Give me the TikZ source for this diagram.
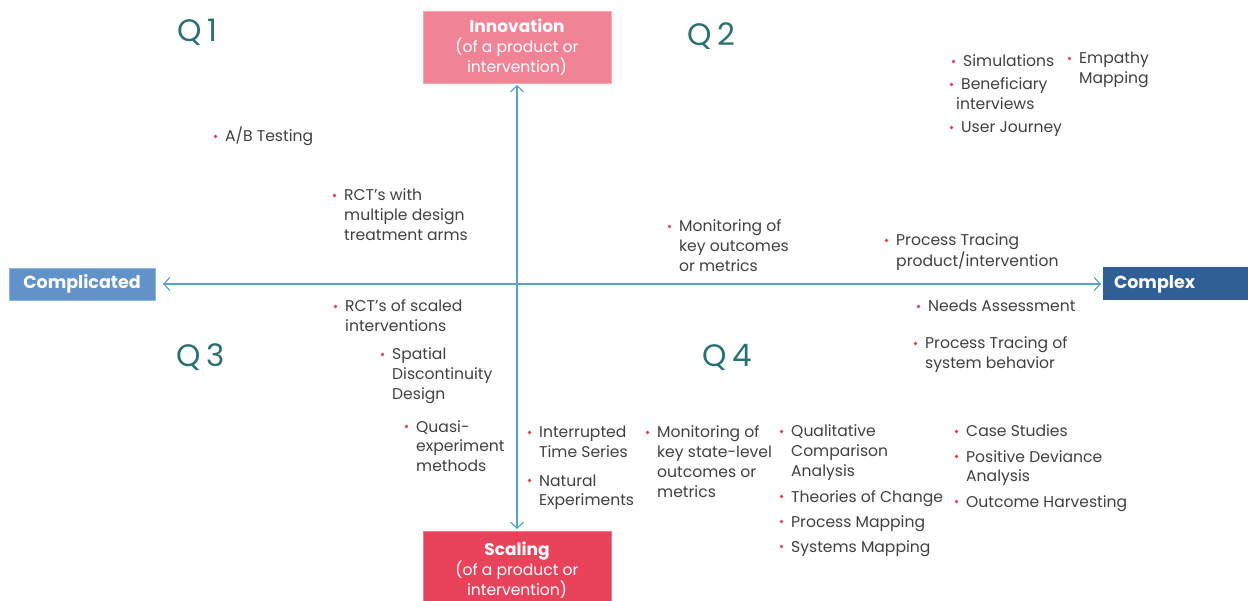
\documentclass[tikz,border=0pt]{standalone}
\usepackage{fontspec}
\setmainfont{Poppins}
\usetikzlibrary{arrows.meta,calc}
\definecolor{txt}{HTML}{404040}
\definecolor{bul}{HTML}{E0405A}
\definecolor{qcol}{HTML}{2B7070}
\definecolor{axisc}{HTML}{5BA3C6}
\definecolor{innovc}{HTML}{F08496}
\definecolor{scalc}{HTML}{E8435B}
\definecolor{complc}{HTML}{6192C8}
\definecolor{complxc}{HTML}{2F5F94}
\tikzset{
  entry/.style={anchor=base west, inner sep=0pt, text=txt,
    font=\fontsize{15.6}{19.8}\selectfont},
  qlab/.style={anchor=west, inner sep=0pt, text=qcol, font=\fontsize{31}{31}\selectfont},
  bigbox/.style={inner sep=0pt, text=white, align=center,
    font=\fontsize{15.6}{20}\selectfont},
  sidebox/.style={inner sep=0pt, text=white, font=\bfseries\fontsize{17.5}{19}\selectfont},
  axisline/.style={draw=axisc, line width=1.2pt, {Straight Barb[length=6pt,width=13pt]}-{Straight Barb[length=6pt,width=13pt]}}
}
\newcommand\bulitem[4]{%
  \node[entry] (#1) at (#2,#3+6) {\begin{tabular}[t]{@{}l@{}}#4\end{tabular}};
  \fill[bul] ($(#1.base west)+(-9.5,-5.5)$) circle (1.9);
}
\begin{document}
\begin{tikzpicture}[x=1pt,y=-1pt]
\useasboundingbox (0,0) rectangle (1248,601);

% quadrant labels
\node[qlab] (q1) at (177,32) {Q\hspace{6pt}1};
\node[qlab] (q2) at (687,36) {Q\hspace{6pt}2};
\node[qlab] (q3) at (176,357) {Q\hspace{6pt}3};
\node[qlab] (q4) at (702,357) {Q\hspace{6pt}4};

% boxes
\node[bigbox, fill=innovc, draw=innovc!70!white, minimum width=188, minimum height=72] (innov) at (517,47)
  {{\bfseries\fontsize{17}{20}\selectfont Innovation}\\(of a product or\\intervention)};
\node[bigbox, fill=scalc, draw=scalc!70!white, minimum width=188, minimum height=78, anchor=north] (scal) at (517,531)
  {{\bfseries\fontsize{17}{20}\selectfont Scaling}\\(of a product or\\intervention)};
\node[sidebox, fill=complc, draw=complc!70!white, minimum width=146, minimum height=32] (compl) at (82,284) {Complicated};
\node[sidebox, fill=complxc, minimum height=33, text width=124, inner xsep=11pt, align=left] (complx) at (1176,284) {Complex};

% axes
\coordinate (vt) at (517,85);
\coordinate (vb) at (517,529);
\coordinate (hl) at (163,284);
\coordinate (hr) at (1101,284);
\draw[axisline] (vt) -- (vb);
\draw[axisline] (hl) -- (hr);

% Q1
\bulitem{ab}{225}{136}{A/B Testing}
\bulitem{rctw}{344}{195}{RCT’s with\\multiple design\\treatment arms}
% Q2
\bulitem{mon1}{679}{226}{Monitoring of\\key outcomes\\or metrics}
\bulitem{ptp}{896}{240}{Process Tracing\\product/intervention}
\bulitem{sim}{963}{61}{Simulations}
\bulitem{ben}{961}{84}{Beneficiary\\\hspace*{-5pt}interviews}
\bulitem{uj}{961}{127}{User Journey}
\bulitem{emp}{1079}{58}{Empathy\\Mapping}
% Q3
\bulitem{rcts}{345}{306}{RCT’s of scaled\\interventions}
\bulitem{sdd}{392}{354}{Spatial\\Discontinuity\\Design}
\bulitem{qem}{416}{426}{Quasi-\\experiment\\methods}
% Q4
\bulitem{its}{539}{432}{Interrupted\\Time Series}
\bulitem{nat}{539}{480}{Natural\\Experiments}
\bulitem{mon2}{657}{432}{Monitoring of\\key state-level\\outcomes or\\metrics}
\bulitem{qca}{791}{431}{Qualitative\\Comparison\\Analysis}
\bulitem{toc}{791}{496}{Theories of Change}
\bulitem{pm}{791}{521}{Process Mapping}
\bulitem{sm}{791}{546}{Systems Mapping}
\bulitem{na}{928}{306}{Needs Assessment}
\bulitem{pts}{925}{343}{Process Tracing of\\system behavior}
\bulitem{cs}{966}{431}{Case Studies}
\bulitem{pda}{966}{456}{Positive Deviance\\Analysis}
\bulitem{oh}{966}{501}{Outcome Harvesting}
\end{tikzpicture}
\end{document}
